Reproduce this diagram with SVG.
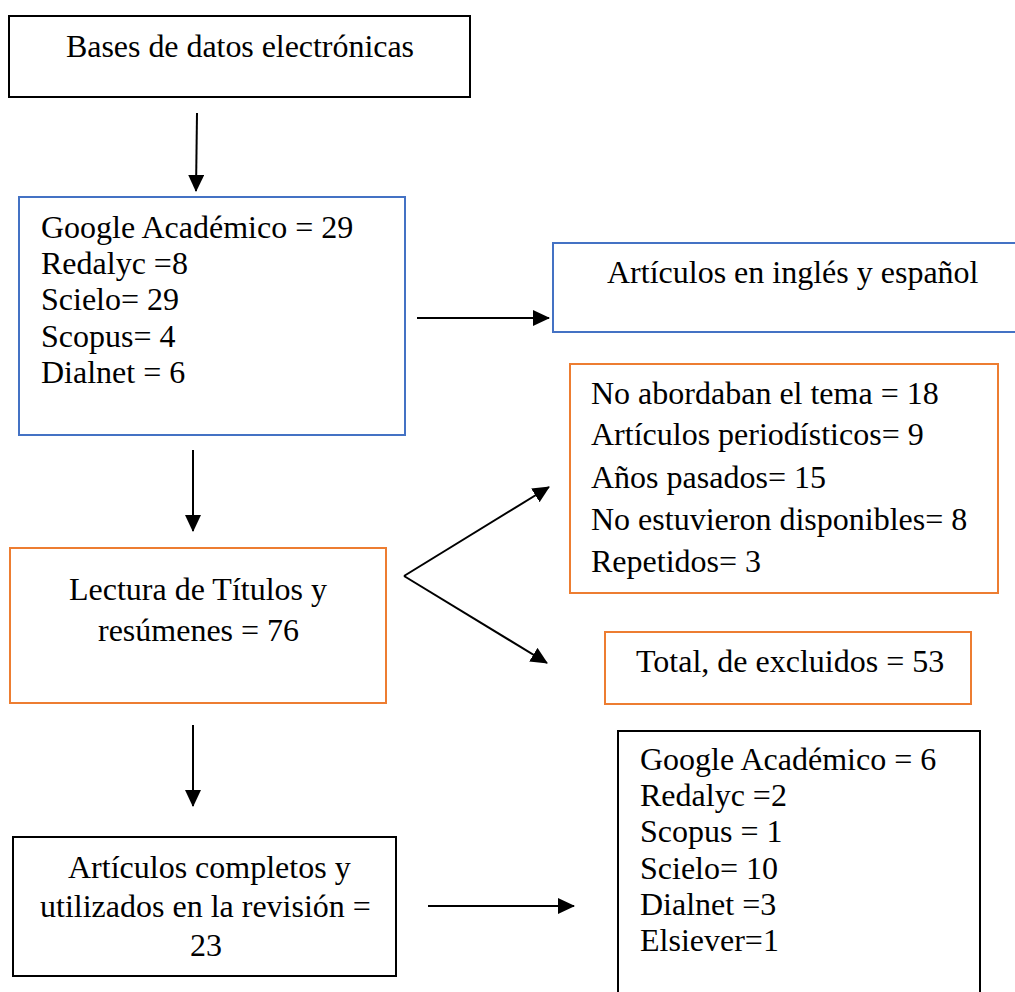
<svg xmlns="http://www.w3.org/2000/svg" width="1015" height="992" viewBox="0 0 1015 992">
<style>
.box{fill:#fff;stroke-width:2}
.k{stroke:#000}
.b{stroke:#4472C4}
.o{stroke:#ED7D31}
text{font-family:"Liberation Serif","Times New Roman",serif;font-size:32px;fill:#000}
.con{stroke:#000;stroke-width:2;fill:none;marker-end:url(#ah)}
</style>
<defs>
<marker id="ah" markerUnits="userSpaceOnUse" markerWidth="18" markerHeight="18" refX="16" refY="8" orient="auto">
<path d="M0,0 L17,8 L0,16 Z" fill="#000"/>
</marker>
</defs>
<rect width="1015" height="992" fill="#fff"/>
<g id="connectors">
<line class="con" x1="197" y1="113" x2="196" y2="191"/>
<line class="con" x1="417" y1="318" x2="549" y2="318"/>
<line class="con" x1="193" y1="450" x2="193" y2="531"/>
<line class="con" x1="404" y1="576" x2="549" y2="487"/>
<line class="con" x1="404" y1="576" x2="547" y2="663"/>
<line class="con" x1="193" y1="725" x2="193" y2="806"/>
<line class="con" x1="428" y1="906" x2="574" y2="906"/>
</g>
<g id="n1">
<rect class="box k" x="9" y="16" width="461" height="81"/>
<text x="66" y="57" textLength="348" lengthAdjust="spacing">Bases de datos electrónicas</text>
</g>
<g id="n2">
<rect class="box b" x="19" y="197" width="386" height="238"/>
<text x="41" y="238">Google Académico = 29</text>
<text x="41" y="274">Redalyc =8</text>
<text x="41" y="310">Scielo= 29</text>
<text x="41" y="347">Scopus= 4</text>
<text x="41" y="383">Dialnet = 6</text>
</g>
<g id="n3">
<rect class="box b" x="553" y="243" width="470" height="89"/>
<text x="607" y="283">Artículos en inglés y español</text>
</g>
<g id="n4">
<rect class="box o" x="570" y="364" width="428" height="229"/>
<text x="591" y="404">No abordaban el tema = 18</text>
<text x="591" y="445">Artículos periodísticos= 9</text>
<text x="591" y="488">Años pasados= 15</text>
<text x="591" y="530">No estuvieron disponibles= 8</text>
<text x="591" y="572">Repetidos= 3</text>
</g>
<g id="n5">
<rect class="box o" x="605" y="632" width="366" height="72"/>
<text x="636" y="672">Total, de excluidos = 53</text>
</g>
<g id="n6">
<rect class="box o" x="10" y="548" width="376" height="155"/>
<text x="69" y="600">Lectura de Títulos y</text>
<text x="98" y="641">resúmenes = 76</text>
</g>
<g id="n7">
<rect class="box k" x="13" y="837" width="383" height="139"/>
<text x="68" y="878">Artículos completos y</text>
<text x="40" y="917">utilizados en la revisión =</text>
<text x="190" y="956">23</text>
</g>
<g id="n8">
<rect class="box k" x="618" y="731" width="362" height="280"/>
<text x="640" y="770">Google Académico = 6</text>
<text x="640" y="806">Redalyc =2</text>
<text x="640" y="842">Scopus = 1</text>
<text x="640" y="879">Scielo= 10</text>
<text x="640" y="915">Dialnet =3</text>
<text x="640" y="951">Elsiever=1</text>
</g>
</svg>
